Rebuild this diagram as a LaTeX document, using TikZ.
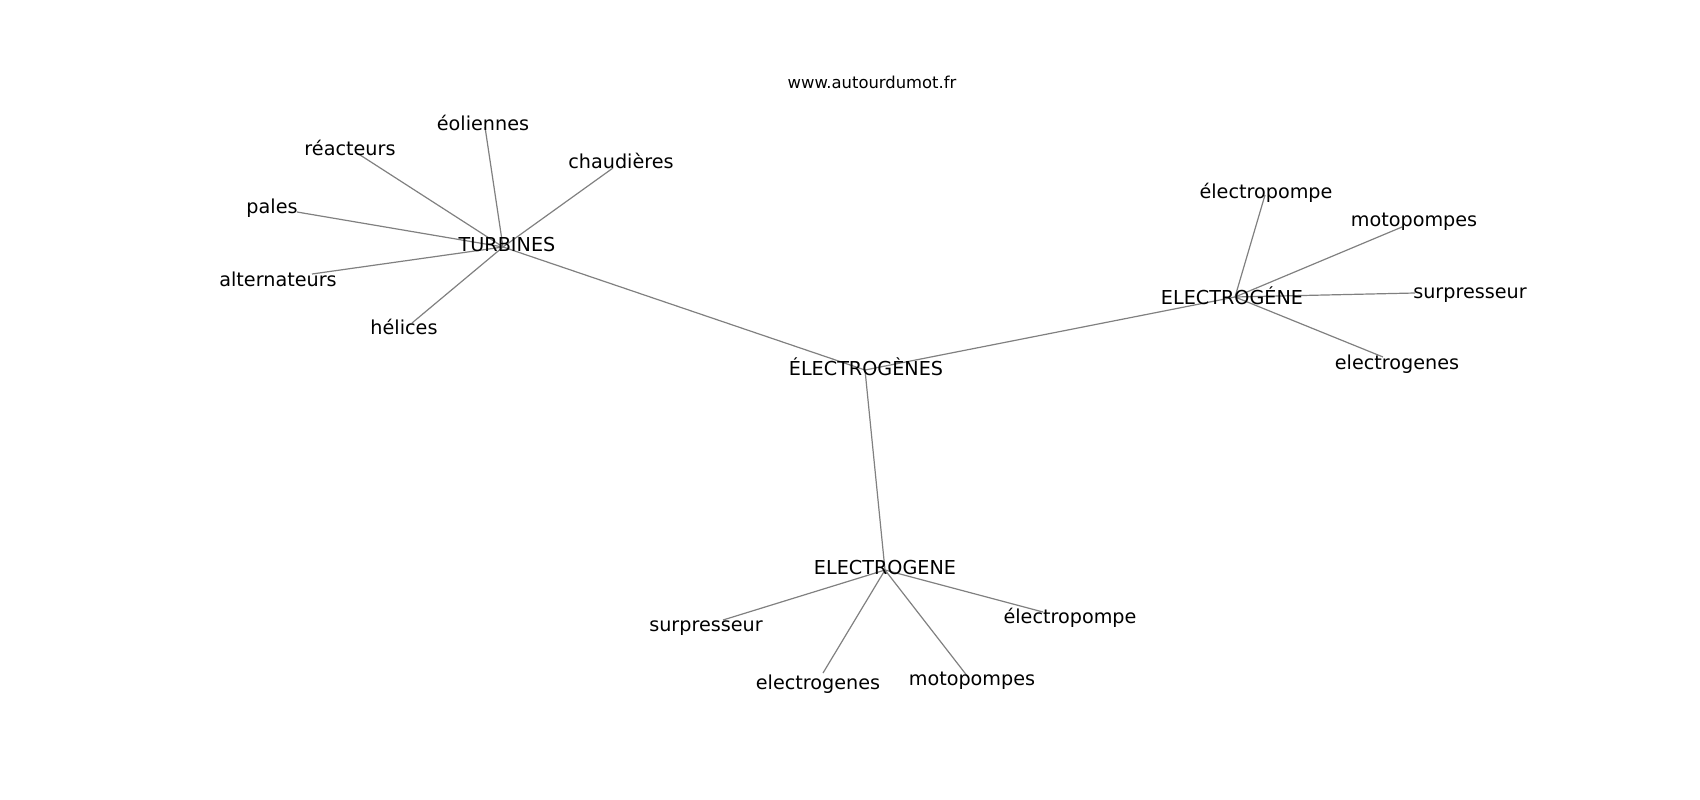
\documentclass[tikz,border=0pt]{standalone}
\usepackage{fontspec}
\setmainfont{DejaVu Sans}
\definecolor{edgegray}{RGB}{128,128,128}
\begin{document}
\begin{tikzpicture}[x=1pt,y=-1pt,
  lbl/.style={inner sep=0pt,anchor=center,yshift=-4pt,text height=0.76em,text depth=0.208em,font=\fontsize{19.2}{23}\selectfont},
  ttl/.style={inner sep=0pt,anchor=center,yshift=-3pt,text height=0.76em,text depth=0.208em,font=\fontsize{16.4}{20}\selectfont},
  edge/.style={draw=edgegray,line width=1.2pt}]
\useasboundingbox (0,0) rectangle (1700,800);
% node positions
\coordinate (T) at (503,247);
\coordinate (C) at (865,370);
\coordinate (R) at (1235,297);
\coordinate (B) at (885,570);
\coordinate (reac) at (357,153);
\coordinate (pales) at (297,212);
\coordinate (alt) at (312,274);
\coordinate (hel) at (412,323);
\coordinate (eol) at (485,127);
\coordinate (chau) at (613,168);
\coordinate (Repo) at (1265,195);
\coordinate (Rmoto) at (1402,227);
\coordinate (Rsurp) at (1415,293);
\coordinate (Relec) at (1383,357);
\coordinate (Bsurp) at (723,620);
\coordinate (Bepo) at (1043,612);
\coordinate (Belec) at (823,673);
\coordinate (Bmoto) at (968,677);
% edges
\draw[edge] (T) -- (C);
\draw[edge] (C) -- (R);
\draw[edge] (C) -- (B);
\foreach \n in {reac,pales,alt,hel,eol,chau} \draw[edge] (T) -- (\n);
\foreach \n in {Repo,Rmoto,Rsurp,Relec} \draw[edge] (R) -- (\n);
\foreach \n in {Bsurp,Bepo,Belec,Bmoto} \draw[edge] (B) -- (\n);
% labels
\node[ttl] (url) at (872,83) {www.autourdumot.fr};
\node[lbl] (leol) at (483,124) {éoliennes};
\node[lbl] (lreac) at (350,149) {réacteurs};
\node[lbl] (lchau) at (621,162) {chaudières};
\node[lbl] (lpales) at (272,207) {pales};
\node[lbl] (lT) at (507,245) {TURBINES};
\node[lbl] (lalt) at (278,280) {alternateurs};
\node[lbl] (lhel) at (404,328) {hélices};
\node[lbl] (lC) at (866,369) {ÉLECTROGÈNES};
\node[lbl] (lRepo) at (1266,192) {électropompe};
\node[lbl] (lRmoto) at (1414,220) {motopompes};
\node[lbl] (lR) at (1232,298) {ELECTROGÉNE};
\node[lbl] (lRsurp) at (1470,292) {surpresseur};
\node[lbl] (lRelec) at (1397,363) {electrogenes};
\node[lbl] (lB) at (885,568) {ELECTROGENE};
\node[lbl] (lBsurp) at (706,625) {surpresseur};
\node[lbl] (lBepo) at (1070,617) {électropompe};
\node[lbl] (lBelec) at (818,683) {electrogenes};
\node[lbl] (lBmoto) at (972,679) {motopompes};
\end{tikzpicture}
\end{document}
